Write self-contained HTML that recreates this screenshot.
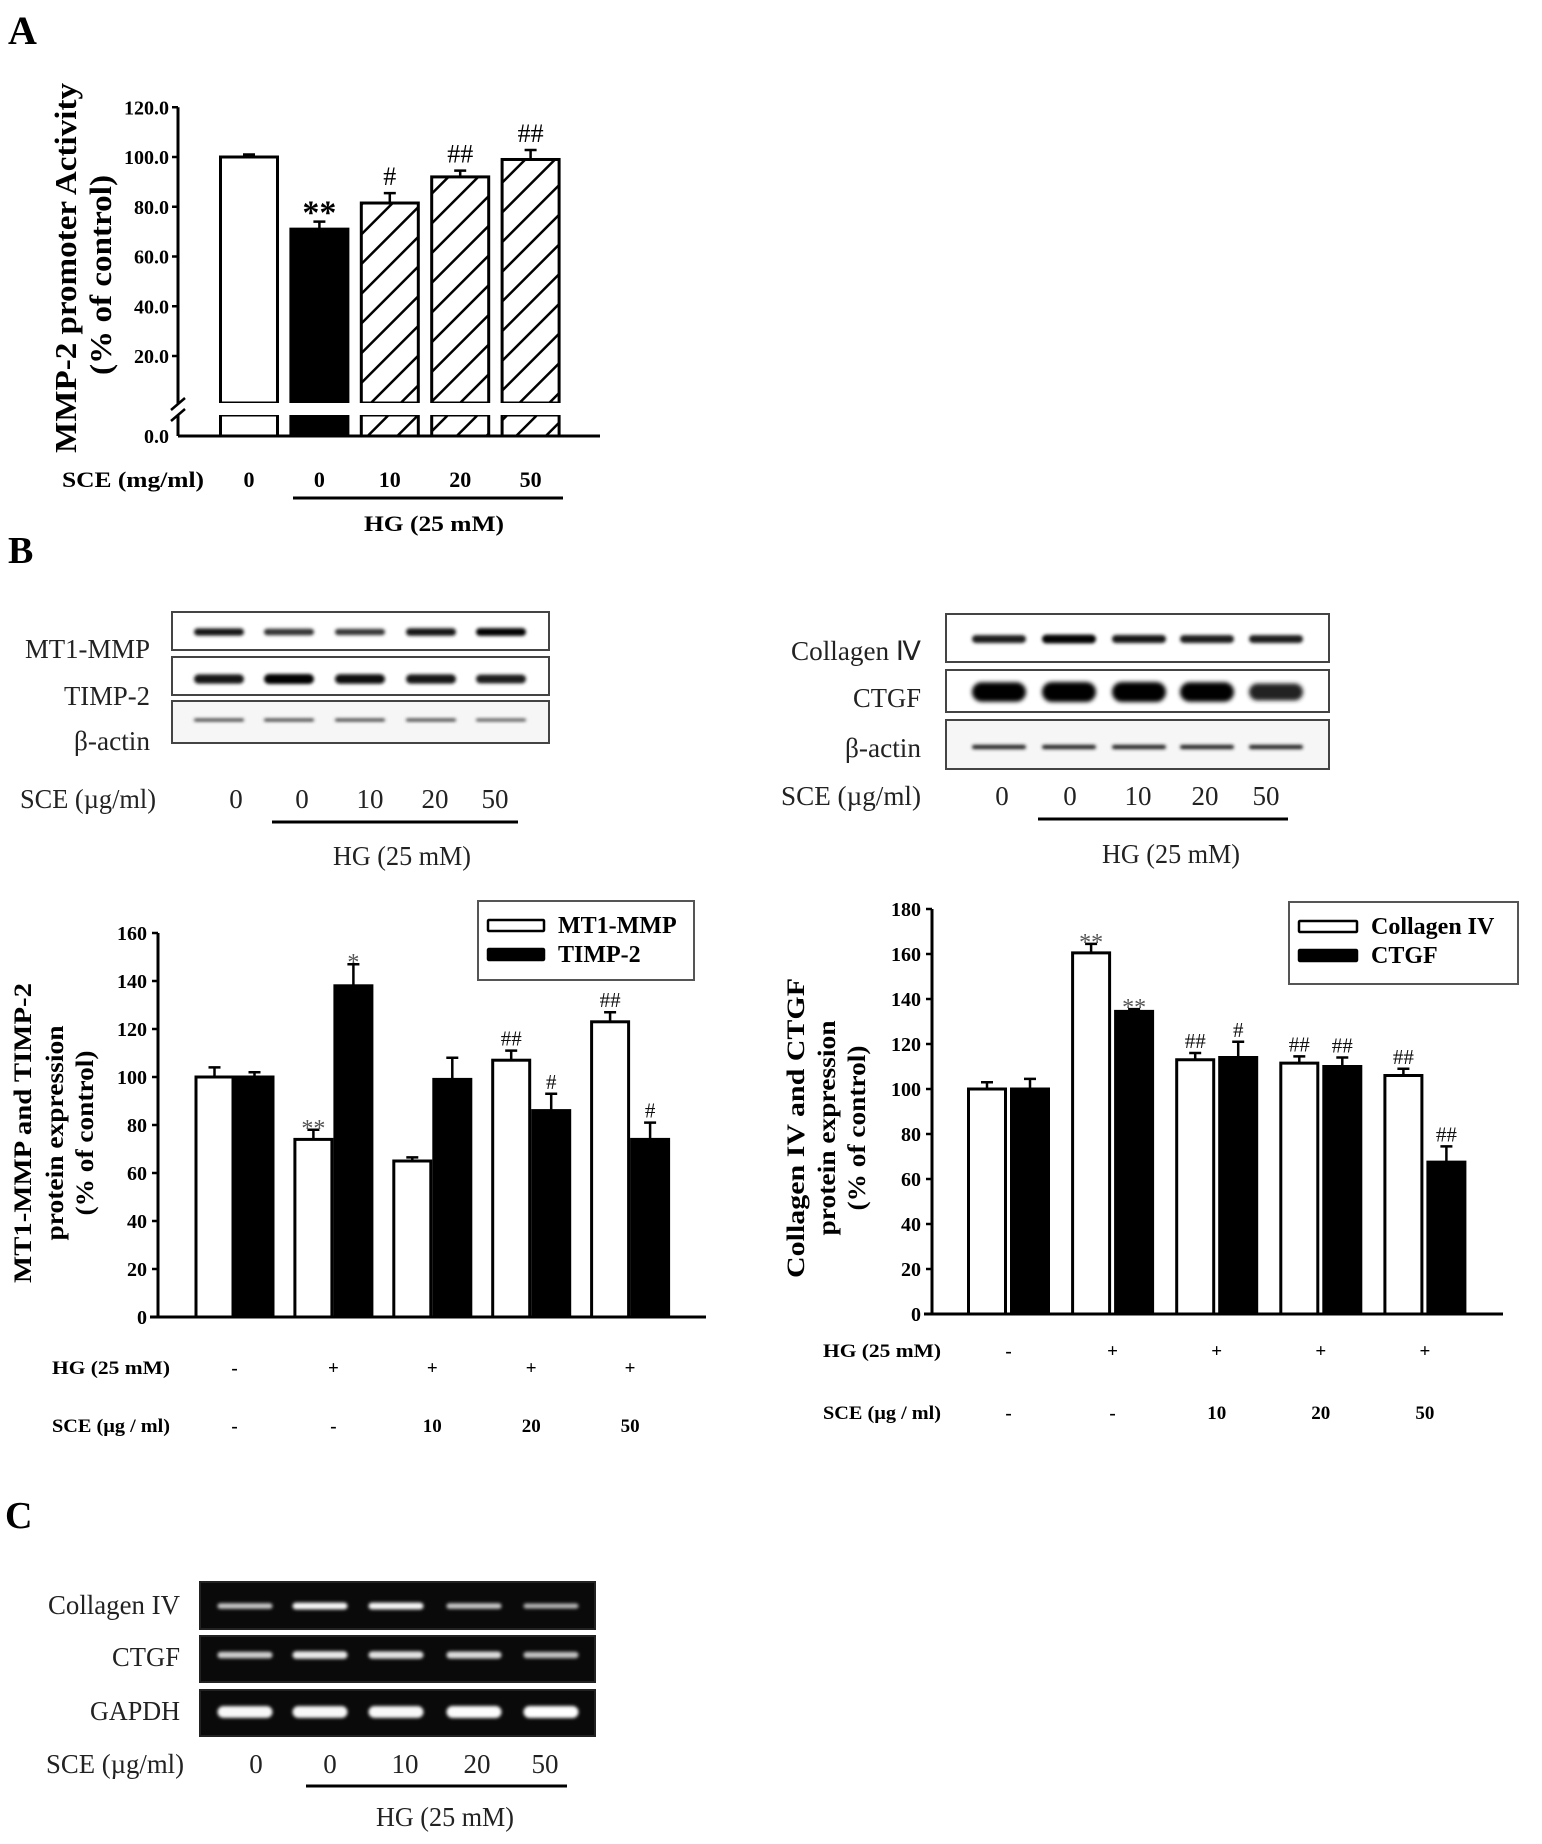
<!DOCTYPE html>
<html><head><meta charset="utf-8"><style>
html,body{margin:0;padding:0;background:#fff;}
svg{display:block;font-family:"Liberation Serif",serif;}
</style></head><body>
<svg id="fig" width="1542" height="1844" viewBox="0 0 1542 1844" xmlns="http://www.w3.org/2000/svg">
<defs>
<pattern id="hatch" patternUnits="userSpaceOnUse" width="21" height="21" patternTransform="rotate(45)">
<rect width="21" height="21" fill="#fff"/><line x1="0" y1="0" x2="0" y2="21" stroke="#000" stroke-width="5"/>
</pattern>
<filter id="blur" x="-20%" y="-100%" width="140%" height="300%"><feGaussianBlur stdDeviation="1.6"/></filter>
<filter id="blur2" x="-20%" y="-100%" width="140%" height="300%"><feGaussianBlur stdDeviation="2.2"/></filter>
</defs>
<g id="root"></g>
</svg>
<script>
// ---- Panel A data ----
const catsA = ["0", "0", "10", "20", "50"];
const valsA = [100, 71, 81.5, 92, 99];
const errA = [1, 3, 4, 2.5, 3.8];
const marksA = ["", "**", "#", "##", "##"];
const ticksA = [20, 40, 60, 80, 100, 120];
// ---- Panel B left data ----
const groupsBL = ["ctrl", "HG", "HG+10", "HG+20", "HG+50"];
const mt1 = [100, 74, 65, 107, 123];
const mt1Err = [4, 4, 1.5, 4, 4];
const timp = [100, 138, 99, 86, 74];
const timpErr = [2, 9, 9, 7, 7];
const mt1Marks = ["", "**", "", "##", "##"];
const timpMarks = ["", "*", "", "#", "#"];
const ticksBL = [0, 20, 40, 60, 80, 100, 120, 140, 160];
const hgRow = ["-", "+", "+", "+", "+"];
const sceRow = ["-", "-", "10", "20", "50"];
// ---- Panel B right data ----
const col4 = [100, 160.5, 113, 111.5, 106];
const col4Err = [3, 4, 3, 3, 3];
const ctgf = [100, 134.5, 114, 110, 67.5];
const ctgfErr = [4.5, 1, 7, 4, 7];
const col4Marks = ["", "**", "##", "##", "##"];
const ctgfMarks = ["", "**", "#", "##", "##"];
const ticksBR = [0, 20, 40, 60, 80, 100, 120, 140, 160, 180];
// ---- blot band intensities (0-1) ----
const lanesSCE = ["0", "0", "10", "20", "50"];
const bandMT1 = [0.8, 0.6, 0.55, 0.85, 0.95];
const bandTIMP = [0.85, 1, 0.9, 0.85, 0.75];
const bandActL = [0.5, 0.5, 0.5, 0.45, 0.4];
const bandCol = [0.75, 0.95, 0.8, 0.75, 0.75];
const bandCTGF = [0.95, 1, 1, 0.95, 0.7];
const bandActR = [0.7, 0.7, 0.7, 0.7, 0.7];
const gelCol = [0.6, 0.95, 0.95, 0.6, 0.45];
const gelCTGF = [0.65, 0.85, 0.8, 0.75, 0.55];
const gelGAPDH = [0.95, 0.95, 0.95, 0.98, 1];

const NS = "http://www.w3.org/2000/svg";
const root = document.getElementById("root");
function mk(tag, attrs, parent) {
  const e = document.createElementNS(NS, tag);
  for (const k in attrs) e.setAttribute(k, attrs[k]);
  (parent || root).appendChild(e);
  return e;
}
function txt(s, attrs, parent) {
  if (attrs.textLength) attrs.lengthAdjust = "spacingAndGlyphs";
  const e = mk("text", attrs, parent); e.textContent = s; return e;
}

let t;
t = txt("A", {x: 8, y: 44, "font-size": 40, "font-weight": "bold"});
 
t = txt("B", {x: 8, y: 563, "font-size": 38, "font-weight": "bold"});
 
t = txt("C", {x: 5, y: 1528, "font-size": 38, "font-weight": "bold"});
 

// ================= Panel A =================
(function(){
  const g = mk("g", {});
   
  const ax = 178, zeroV = 405.75, ppu = 2.4875, base = 436, brkTop = 403, brkBot = 415;
  const y = v => zeroV - v * ppu;
  const cx = i => 249 + i * 70.4;
  const bw = 57;
  let e = mk("path", {d: `M${ax},${y(120)} V${brkTop+1} M${ax},${brkBot} V${base}`, stroke: "#000", "stroke-width": 3, fill: "none"}, g);
   
  e = mk("path", {d: `M${ax-7},${brkTop+7} L${ax+7},${brkTop-5} M${ax-7},${brkBot+6} L${ax+7},${brkBot-6}`, stroke: "#000", "stroke-width": 2.5}, g);
   
  e = mk("line", {x1: ax, x2: 600, y1: base, y2: base, stroke: "#000", "stroke-width": 3}, g);
   
  ticksA.forEach(v => {
    const tk = mk("line", {x1: ax-6, x2: ax, y1: y(v), y2: y(v), stroke: "#000", "stroke-width": 2.5}, g);
     
    const tl = txt(v.toFixed(1), {x: ax-9, y: y(v)+7, "font-size": 20, "font-weight": "bold", "text-anchor": "end"}, g);
     
  });
  let tl = txt("0.0", {x: ax-9, y: base+7, "font-size": 20, "font-weight": "bold", "text-anchor": "end"}, g);
   
  valsA.forEach((v, i) => {
    const fill = i === 0 ? "#fff" : (i === 1 ? "#000" : "url(#hatch)");
    const x0 = cx(i) - bw/2;
    const b1 = mk("rect", {x: x0, y: y(v), width: bw, height: brkTop - y(v), fill: fill, stroke: "#000", "stroke-width": 3}, g);
     
    const b2 = mk("rect", {x: x0, y: brkBot, width: bw, height: base - brkBot, fill: fill, stroke: "#000", "stroke-width": 3}, g);
     
    mk("line", {x1: x0-2, x2: x0+bw+2, y1: brkTop+1.5, y2: brkTop+1.5, stroke: "#fff", "stroke-width": 3}, g);
    mk("line", {x1: x0-2, x2: x0+bw+2, y1: brkBot-1.5, y2: brkBot-1.5, stroke: "#fff", "stroke-width": 3}, g);
    const eb = mk("path", {d: `M${cx(i)},${y(v)} V${y(v+errA[i])} M${cx(i)-6},${y(v+errA[i])} H${cx(i)+6}`, stroke: "#000", "stroke-width": 2.5, fill: "none"}, g);
     
    if (marksA[i]) {
      const m = txt(marksA[i], {x: cx(i), y: y(v+errA[i]) - (marksA[i]==="**" ? -2 : 8), "font-size": marksA[i]==="**" ? 34 : 26, "font-weight": marksA[i]==="**" ? "bold" : "normal", "text-anchor": "middle"}, g);
       
    }
    const c = txt(catsA[i], {x: cx(i), y: 487, "font-size": 22, "font-weight": "bold", "text-anchor": "middle"}, g);
     
  });
  tl = txt("SCE (mg/ml)", {x: 62, y: 487, "font-size": 22, "font-weight": "bold", textLength: 142}, g);
   
  e = mk("line", {x1: 293, x2: 563, y1: 498, y2: 498, stroke: "#000", "stroke-width": 3}, g);
   
  tl = txt("HG (25 mM)", {x: 434, y: 531, "font-size": 22, "font-weight": "bold", "text-anchor": "middle", textLength: 140}, g);
   
  tl = txt("MMP-2 promoter Activity", {x: 0, y: 0, "font-size": 31, "font-weight": "bold", "text-anchor": "middle", textLength: 370, transform: "translate(76,268) rotate(-90)"}, g);
   
  tl = txt("(% of control)", {x: 0, y: 0, "font-size": 31, "font-weight": "bold", "text-anchor": "middle", textLength: 200, transform: "translate(111,275) rotate(-90)"}, g);
   
})();

// ============ grouped bar charts ============
function groupedChart(o) {
  const g = mk("g", {});
   
  const y = v => o.zero - v * o.ppu;
  const top = y(o.ticks[o.ticks.length-1]);
  let e = mk("line", {x1: o.ax, x2: o.ax, y1: top, y2: o.zero, stroke: "#000", "stroke-width": 3}, g);
   
  e = mk("line", {x1: o.ax-8, x2: o.axEnd, y1: o.zero, y2: o.zero, stroke: "#000", "stroke-width": 3}, g);
   
  o.ticks.forEach(v => {
    const tk = mk("line", {x1: o.ax-6, x2: o.ax, y1: y(v), y2: y(v), stroke: "#000", "stroke-width": 2.5}, g);
     
    const tl = txt(String(v), {x: o.ax-11, y: y(v)+7, "font-size": 20, "font-weight": "bold", "text-anchor": "end"}, g);
     
  });
  const bw = o.bw;
  [[o.s1, o.e1, o.m1, "#fff", -1], [o.s2, o.e2, o.m2, "#000", 1]].forEach(([vals, errs, marks, fill, side], si) => {
    vals.forEach((v, i) => {
      const c = o.c0 + i * o.sp;
      const x0 = side < 0 ? c - o.gap/2 - bw : c + o.gap/2;
      const xm = x0 + bw/2;
      const b = mk("rect", {x: x0, y: y(v), width: bw, height: o.zero - y(v), fill: fill, stroke: "#000", "stroke-width": 3}, g);
       
      const et = y(v + errs[i]);
      const eb = mk("path", {d: `M${xm},${y(v)} V${et} M${xm-6},${et} H${xm+6}`, stroke: "#000", "stroke-width": 2.5, fill: "none"}, g);
       
      if (marks[i]) {
        const star = marks[i].indexOf("*") >= 0;
        const m = txt(marks[i], {x: xm, y: et - (star ? -6 : 5), "font-size": star ? 24 : 21, fill: star ? "#555" : "#111", "text-anchor": "middle"}, g);
         
      }
    });
  });
  [[o.hgY, hgRow, "HG (25 mM)"], [o.sceY, sceRow, "SCE (µg / ml)"]].forEach(([ry, arr, lab]) => {
    const l = txt(lab, {x: o.labX, y: ry+7, "font-size": 19, "font-weight": "bold", textLength: 118}, g);
     
    arr.forEach((s, i) => {
      const c = o.c0 + i * o.sp;
      const v = txt(s, {x: c, y: ry+7, "font-size": 19, "font-weight": "bold", "text-anchor": "middle"}, g);
       
    });
  });
  e = mk("rect", {x: o.lg[0], y: o.lg[1], width: o.lg[2], height: o.lg[3], fill: "#fff", stroke: "#555", "stroke-width": 2}, g);
   
  [[o.n1Label, "#fff", 0], [o.n2Label, "#000", 1]].forEach(([lab, fill, k]) => {
    const sy = o.lg[1] + 19 + k * 29;
    const sw = mk("rect", {x: o.lg[0]+10, y: sy, width: o.swW, height: 11, fill: fill, stroke: "#000", "stroke-width": 2.5, rx: 1}, g);
     
    const lt = txt(lab, {x: o.lg[0]+o.swW+24, y: sy+13, "font-size": 24, "font-weight": "bold"}, g);
     
  });
  o.title.forEach((s, k) => {
    const tt = txt(s[0], {x: 0, y: 0, "font-size": 25, "font-weight": "bold", "text-anchor": "middle", textLength: s[1], transform: `translate(${o.titleX[k]},${o.titleY}) rotate(-90)`}, g);
     
  });
}
groupedChart({name: "chart-b-left", ax: 158, axEnd: 706, zero: 1317, ppu: 2.4, ticks: ticksBL,
  c0: 234.5, sp: 98.9, bw: 37, gap: 3, s1: mt1, e1: mt1Err, m1: mt1Marks, s2: timp, e2: timpErr, m2: timpMarks,
  n1: "mt1-mmp", n2: "timp-2", n1Label: "MT1-MMP", n2Label: "TIMP-2", hgY: 1367, sceY: 1425, labX: 52,
  lg: [478, 901, 216, 79], swW: 56,
  title: [["MT1-MMP and TIMP-2", 300], ["protein expression", 215], ["(% of control)", 165]], titleX: [31, 63, 93], titleY: 1133});
groupedChart({name: "chart-b-right", ax: 932, axEnd: 1503, zero: 1314, ppu: 2.25, ticks: ticksBR,
  c0: 1008.5, sp: 104.1, bw: 37, gap: 6, s1: col4, e1: col4Err, m1: col4Marks, s2: ctgf, e2: ctgfErr, m2: ctgfMarks,
  n1: "collagen-iv", n2: "ctgf", n1Label: "Collagen IV", n2Label: "CTGF", hgY: 1350, sceY: 1412, labX: 823,
  lg: [1289, 902, 229, 82], swW: 58,
  title: [["Collagen IV and CTGF", 300], ["protein expression", 215], ["(% of control)", 165]], titleX: [804, 835, 865], titleY: 1128});

// ============ Blots ============
function blot(o) {
  const g = mk("g", {});
   
  o.rows.forEach(r => {
    const bx = mk("rect", {x: o.x, y: r.y0, width: o.w, height: r.y1 - r.y0, fill: o.dark ? "#0a0a0a" : (r.bg || "#fff"), stroke: o.dark ? "#222" : "#444", "stroke-width": 2}, g);
     
    const lb = txt(r.label, {x: o.labX, y: r.ly, "font-size": 27, "text-anchor": "end", fill: "#222", textLength: r.lw}, g);
     
    r.vals.forEach((v, i) => {
      const c = o.lanes[i];
      const h = r.h * (0.5 + 0.5 * v);
      let color;
      if (o.dark) { const c2 = Math.round(120 + 135 * v); color = `rgb(${c2},${c2},${c2})`; }
      else { const c2 = Math.round(120 - 120 * v); color = `rgb(${c2},${c2},${c2})`; }
      const bd = mk("rect", {x: c - o.bw/2, y: r.by - h/2, width: o.bw, height: h, rx: h/2, fill: color, filter: r.h > 12 ? "url(#blur2)" : "url(#blur)"}, g);
       
    });
  });
  const sl = txt("SCE (µg/ml)", {x: o.sceX, y: o.sceY, "font-size": 27, fill: "#222", textLength: o.sceW}, g);
   
  lanesSCE.forEach((s, i) => {
    const v = txt(s, {x: o.valX[i], y: o.sceY, "font-size": 27, "text-anchor": "middle", fill: "#222"}, g);
     
  });
  const ln = mk("line", {x1: o.line[0], x2: o.line[1], y1: o.line[2], y2: o.line[2], stroke: "#000", "stroke-width": 3}, g);
   
  const hl = txt("HG (25 mM)", {x: o.hgX, y: o.hgY, "font-size": 27, "text-anchor": "middle", fill: "#222", textLength: 138}, g);
   
}
blot({name: "western-blot-left", x: 172, w: 377, labX: 150, lanes: [219, 289, 360, 431, 501], bw: 50, dark: false,
  rows: [{id: "mt1-mmp", label: "MT1-MMP", y0: 612, y1: 650, by: 632, h: 8, vals: bandMT1, ly: 658, lw: 125},
         {id: "timp-2", label: "TIMP-2", y0: 657, y1: 695, by: 679, h: 10, vals: bandTIMP, ly: 705, lw: 86},
         {id: "beta-actin", label: "β-actin", y0: 701, y1: 743, by: 720, h: 4, vals: bandActL, ly: 750, lw: 76, bg: "#f6f6f6"}],
  sceX: 20, sceY: 808, sceW: 136, valX: [236, 302, 370, 435, 495], line: [272, 518, 822], hgX: 402, hgY: 865});
blot({name: "western-blot-right", x: 946, w: 383, labX: 921, lanes: [999, 1069, 1139, 1207, 1276], bw: 54, dark: false,
  rows: [{id: "collagen-iv", label: "Collagen Ⅳ", y0: 614, y1: 662, by: 639, h: 9, vals: bandCol, ly: 660, lw: 130},
         {id: "ctgf", label: "CTGF", y0: 670, y1: 712, by: 692, h: 20, vals: bandCTGF, ly: 707, lw: 68},
         {id: "beta-actin", label: "β-actin", y0: 720, y1: 769, by: 747, h: 5, vals: bandActR, ly: 757, lw: 76, bg: "#f6f6f6"}],
  sceX: 781, sceY: 805, sceW: 140, valX: [1002, 1070, 1138, 1205, 1266], line: [1038, 1288, 819], hgX: 1171, hgY: 863});
blot({name: "rt-pcr-gel", x: 200, w: 395, labX: 180, lanes: [245, 320, 396, 474, 551], bw: 55, dark: true,
  rows: [{id: "collagen-iv", label: "Collagen IV", y0: 1582, y1: 1629, by: 1606, h: 7, vals: gelCol, ly: 1614, lw: 132},
         {id: "ctgf", label: "CTGF", y0: 1636, y1: 1682, by: 1655, h: 8, vals: gelCTGF, ly: 1666, lw: 68},
         {id: "gapdh", label: "GAPDH", y0: 1690, y1: 1736, by: 1712, h: 12, vals: gelGAPDH, ly: 1720, lw: 90}],
  sceX: 46, sceY: 1773, sceW: 138, valX: [256, 330, 405, 477, 545], line: [306, 567, 1786], hgX: 445, hgY: 1826});
</script>
</body></html>
